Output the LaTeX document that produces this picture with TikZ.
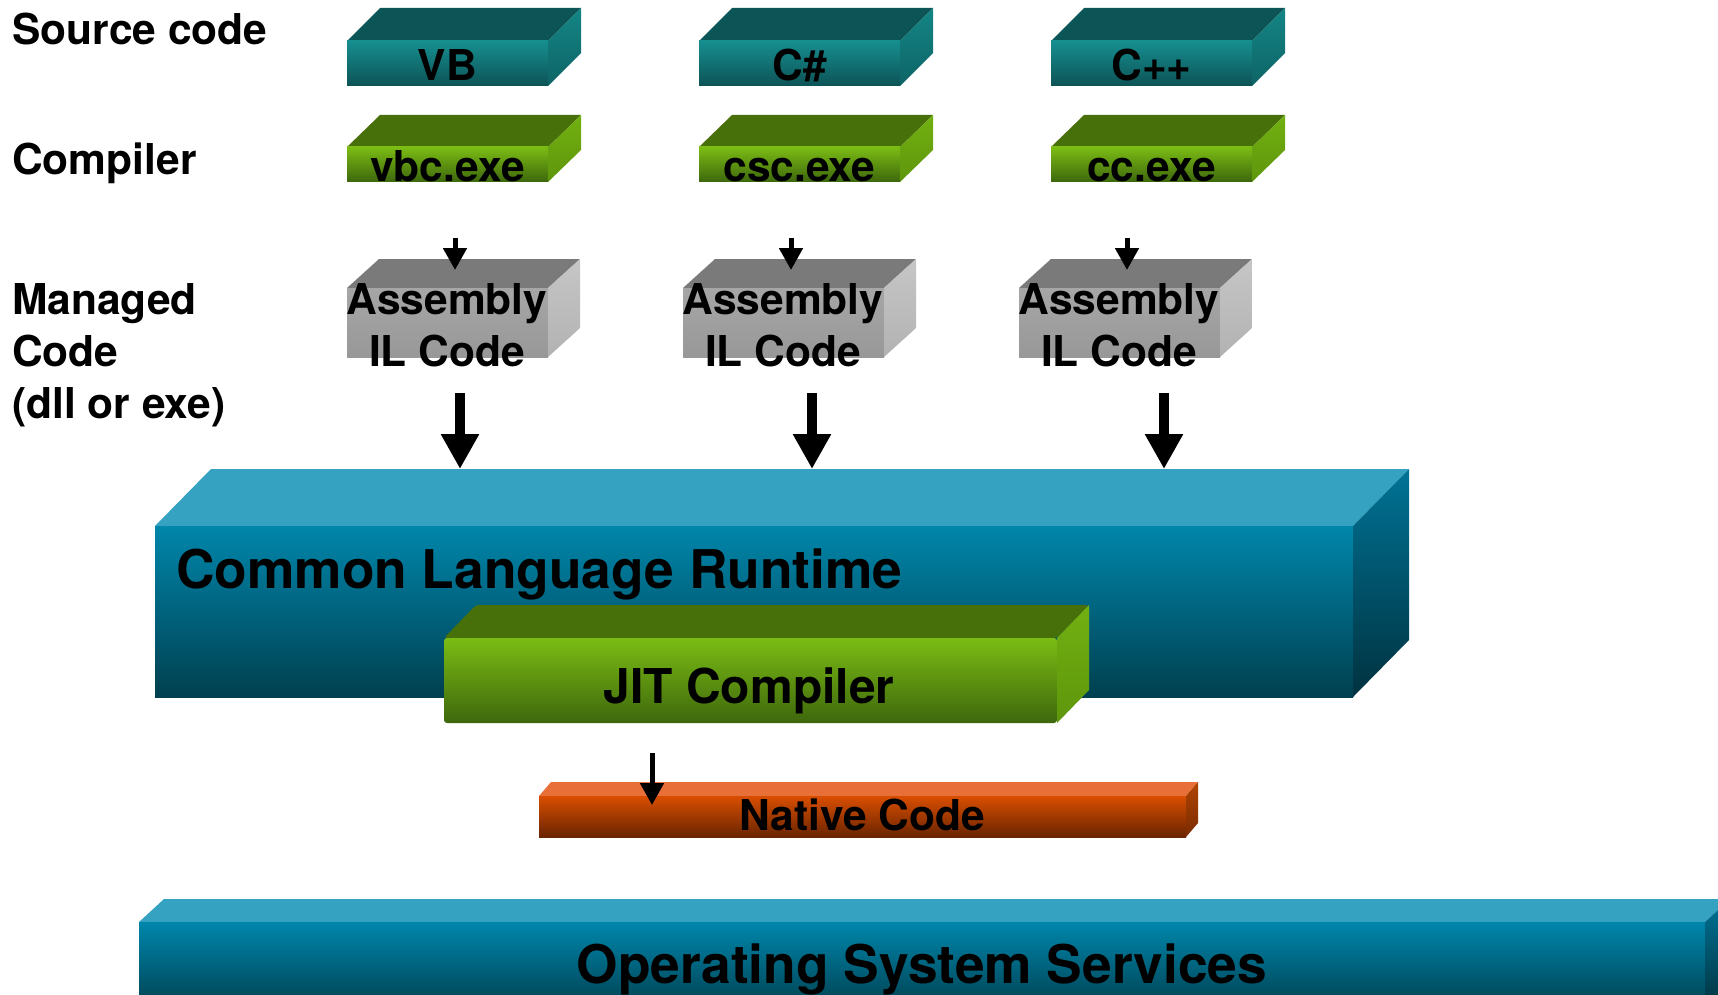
\documentclass[tikz,border=0pt]{standalone}
\usepackage{fontspec}
\setmainfont{TeX Gyre Heros}
\usetikzlibrary{arrows.meta}
% teal (source code)
\definecolor{tealT}{HTML}{0D5456}
\definecolor{tealA}{HTML}{168E8F}
\definecolor{tealB}{HTML}{0D5356}
\definecolor{tealC}{HTML}{148585}
\definecolor{tealD}{HTML}{0E6466}
% green
\definecolor{grnT}{HTML}{48700A}
\definecolor{grnA}{HTML}{7BBC14}
\definecolor{grnB}{HTML}{3E670D}
\definecolor{grnC}{HTML}{72B011}
\definecolor{grnD}{HTML}{5E960C}
% gray
\definecolor{gryT}{HTML}{7A7A7A}
\definecolor{gryA}{HTML}{A6A6A6}
\definecolor{gryB}{HTML}{989898}
\definecolor{gryC}{HTML}{C6C6C6}
\definecolor{gryD}{HTML}{B2B2B2}
% blue
\definecolor{bluT}{HTML}{35A2C2}
\definecolor{bluA}{HTML}{0086AB}
\definecolor{bluB}{HTML}{00404F}
\definecolor{bluC}{HTML}{007396}
\definecolor{bluD}{HTML}{00323F}
% orange
\definecolor{ornT}{HTML}{E87038}
\definecolor{ornA}{HTML}{D84E00}
\definecolor{ornB}{HTML}{6A2400}
\definecolor{ornC}{HTML}{B04400}
\definecolor{ornD}{HTML}{7A2A00}
\newcommand\cubo[7]{%
  \fill[#7T] (#1,#2) -- ({#1+#5},{#2-#6}) -- ({#3+#5},{#2-#6}) -- (#3,#2) -- cycle;
  \shade[top color=#7A, bottom color=#7B] (#1,#2) rectangle (#3,#4);
  \shade[top color=#7C, bottom color=#7D] (#3,#2) -- ({#3+#5},{#2-#6}) -- ({#3+#5},{#4-#6}) -- (#3,#4) -- cycle;
}
\tikzset{
  lbl/.style={inner sep=0pt, font=\fontsize{42.5}{50}\selectfont\bfseries},
  big/.style={inner sep=0pt, font=\fontsize{53.3}{60}\selectfont\bfseries},
  smallarrow/.style={line width=5pt, -{Triangle[length=22pt,width=23pt]}},
  bigarrow/.style={line width=10pt, -{Triangle[length=35pt,width=36pt]}},
}
\begin{document}
\begin{tikzpicture}[x=1pt,y=-1pt]
\useasboundingbox (0,0) rectangle (1718,995);
\clip (0,0) rectangle (1718,995);
% left labels
\node[lbl, anchor=base west] (src) at (12,45) {Source code};
\node[lbl, anchor=base west] (cmp) at (12,175) {Compiler};
\node[lbl, anchor=base west] (mg1) at (12,314) {Managed};
\node[lbl, anchor=base west] (mg2) at (12,366) {Code};
\node[lbl, anchor=base west] (mg3) at (12,418) {(dll or exe)};
% source code boxes
\cubo{347}{41}{548}{86}{33}{33}{teal}
\cubo{699}{41}{900}{86}{33}{33}{teal}
\cubo{1051}{41}{1252}{86}{33}{33}{teal}
\node[lbl, anchor=base] (vb) at (447.5,81) {VB};
\node[lbl, anchor=base] (cs) at (799.5,81) {C\#};
\node[lbl, anchor=base] (cpp) at (1151.5,81) {C++};
% compiler boxes
\cubo{347}{147}{548}{182}{33}{32}{grn}
\cubo{699}{147}{900}{182}{33}{32}{grn}
\cubo{1051}{147}{1252}{182}{33}{32}{grn}
\node[lbl, anchor=base] (vbc) at (447.5,182) {vbc.exe};
\node[lbl, anchor=base] (csc) at (799.5,182) {csc.exe};
\node[lbl, anchor=base] (cc) at (1151.5,182) {cc.exe};
% assembly boxes
\cubo{347}{288}{548}{357}{32}{29}{gry}
\cubo{683}{288}{884}{357}{32}{29}{gry}
\cubo{1019}{288}{1220}{357}{32}{29}{gry}
\node[lbl, anchor=base] (as1) at (447,314) {Assembly};
\node[lbl, anchor=base] (il1) at (447,366) {IL Code};
\node[lbl, anchor=base] (as2) at (783,314) {Assembly};
\node[lbl, anchor=base] (il2) at (783,366) {IL Code};
\node[lbl, anchor=base] (as3) at (1119,314) {Assembly};
\node[lbl, anchor=base] (il3) at (1119,366) {IL Code};
% small arrows
\foreach \i/\x in {1/455,2/791,3/1127}{
  \coordinate (sa\i) at (\x,238);
  \coordinate (sb\i) at (\x,270);
  \draw[smallarrow] (sa\i) -- (sb\i);
}
% CLR
\cubo{155}{526}{1353}{697}{56}{57}{blu}
\node[big, anchor=base west] (clr) at (176,588) {Common Language Runtime};
% big arrows
\foreach \i/\x in {1/460,2/812,3/1164}{
  \coordinate (ba\i) at (\x,393);
  \coordinate (bb\i) at (\x,469);
  \draw[bigarrow] (ba\i) -- (bb\i);
}
% JIT
\fill[grnT, rounded corners=3pt] (444,638) -- (476,605) -- (1089,605) -- (1057,638) -- cycle;
\shade[top color=grnA, bottom color=grnB, rounded corners=3pt] (444,638) rectangle (1057,723);
\shade[top color=grnC, bottom color=grnD] (1057,638) -- (1089,605) -- (1089,690) -- (1057,723) -- cycle;
\node[inner sep=0pt, font=\fontsize{48}{56}\selectfont\bfseries, anchor=base] (jit) at (749,703) {JIT Compiler};
% Native code
\cubo{539}{796}{1186}{837}{12}{14}{orn}
\node[lbl, anchor=base] (nat) at (862,830) {Native Code};
\coordinate (na) at (652,753);
\coordinate (nb) at (652,805);
\draw[line width=5pt, -{Triangle[length=22pt,width=23pt]}] (na) -- (nb);
% OS
\cubo{139}{922}{1705}{1010}{25}{23}{blu}
\node[big, anchor=base] (os) at (922,983) {Operating System Services};
\end{tikzpicture}
\end{document}
